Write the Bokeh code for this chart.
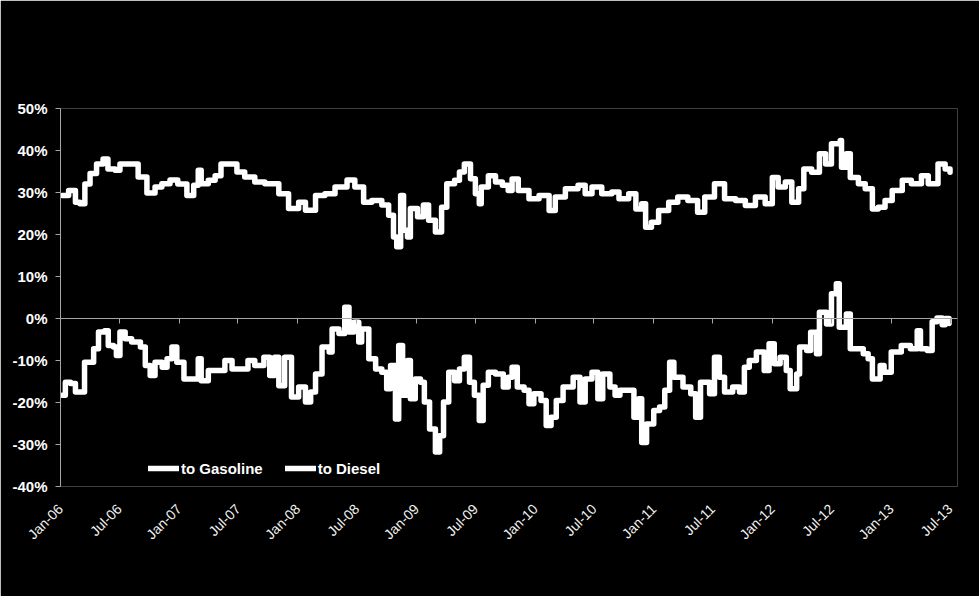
import pandas as pd
from bokeh.plotting import figure
from bokeh.models import (ColumnDataSource, DatetimeAxis, FixedTicker, NumeralTickFormatter,
                          DatetimeTickFormatter, Range1d, Legend, LegendItem)
from bokeh.embed import file_html
from bokeh.resources import INLINE

# ---------------- data ----------------
gas_dates = ["2006-01-06","2006-01-26","2006-02-16","2006-03-02","2006-03-17","2006-04-02","2006-04-22",
 "2006-05-12","2006-05-27","2006-06-18","2006-07-03","2006-08-14","2006-08-28","2006-09-24","2006-10-19",
 "2006-11-09","2006-12-04","2006-12-28","2007-01-25","2007-02-15","2007-03-01","2007-03-10","2007-04-01",
 "2007-04-22","2007-05-10","2007-06-01","2007-06-28","2007-07-22","2007-08-22","2007-09-22","2007-10-22",
 "2007-11-04","2007-12-04","2008-01-04","2008-01-25","2008-02-25","2008-03-25","2008-04-25","2008-06-01",
 "2008-06-25","2008-07-22","2008-08-16","2008-09-16","2008-10-07","2008-10-22","2008-11-01","2008-11-13",
 "2008-11-22","2008-12-04","2008-12-13","2009-01-04","2009-01-22","2009-02-07","2009-02-28","2009-03-19",
 "2009-04-04","2009-04-28","2009-05-13","2009-05-28","2009-06-16","2009-07-01","2009-07-13","2009-07-19",
 "2009-08-10","2009-09-01","2009-09-22","2009-10-10","2009-10-22","2009-11-10","2009-12-13","2010-01-13",
 "2010-02-13","2010-03-04","2010-04-04","2010-05-13","2010-06-04","2010-06-25","2010-07-25","2010-08-25",
 "2010-09-16","2010-10-16","2010-11-07","2010-11-25","2010-12-07","2010-12-25","2011-01-16","2011-02-16",
 "2011-03-16","2011-04-16","2011-05-16","2011-06-07","2011-07-07","2011-08-07","2011-09-10","2011-10-10",
 "2011-11-10","2011-12-10","2012-01-01","2012-01-19","2012-02-10","2012-03-01","2012-03-22","2012-04-07",
 "2012-05-01","2012-05-25","2012-06-13","2012-07-01","2012-07-28","2012-08-01","2012-08-16","2012-08-28",
 "2012-09-22","2012-10-13","2012-11-04","2012-11-22","2012-12-13","2013-01-04","2013-02-04","2013-03-04",
 "2013-04-04","2013-04-25","2013-05-25","2013-06-16","2013-07-01"]
gas_values = [29.3,30.5,27.7,27.3,32.0,34.5,36.8,
 38.0,35.6,35.3,36.8,36.8,33.7,29.9,31.3,
 32.1,33.0,32.0,29.3,31.7,35.3,32.1,32.9,
 34.0,36.8,36.8,34.9,33.7,32.5,32.1,32.1,
 29.7,26.2,27.7,25.8,29.3,29.7,31.3,33.0,
 31.3,27.7,28.1,27.0,24.6,19.4,17.1,29.3,
 21.0,19.4,26.2,24.2,27.0,23.4,20.6,26.5,
 32.1,32.9,34.9,36.8,33.3,29.7,27.3,31.3,
 34.0,32.5,31.7,30.5,33.2,30.5,28.5,29.3,
 25.7,28.9,30.9,31.7,29.7,31.3,29.7,30.1,
 28.5,29.7,26.1,27.3,21.7,22.9,25.7,27.7,
 28.9,28.1,25.3,28.9,32.1,28.5,28.1,26.9,
 28.9,27.3,33.6,31.3,32.5,27.7,30.9,35.6,
 34.8,39.2,36.8,41.6,42.4,36.0,39.2,33.6,
 32.1,30.9,26.1,26.5,28.1,30.5,32.9,32.1,
 34.0,32.1,36.8,35.6,34.8]

dsl_dates = ["2006-01-06","2006-01-16","2006-02-01","2006-02-16","2006-03-07","2006-03-16","2006-04-01",
 "2006-04-13","2006-04-28","2006-05-17","2006-05-28","2006-06-13","2006-06-22","2006-07-03","2006-07-19",
 "2006-08-08","2006-09-04","2006-09-19","2006-10-04","2006-10-19","2006-11-10","2006-11-25","2006-12-10",
 "2006-12-25","2007-01-16","2007-02-10","2007-03-01","2007-03-10","2007-04-01","2007-04-22","2007-05-22",
 "2007-06-13","2007-07-13","2007-08-01","2007-08-22","2007-09-19","2007-10-07","2007-10-22","2007-11-04",
 "2007-11-22","2007-12-13","2008-01-04","2008-01-25","2008-02-10","2008-02-25","2008-03-16","2008-04-07",
 "2008-04-16","2008-05-07","2008-05-25","2008-06-07","2008-06-22","2008-07-07","2008-07-16","2008-08-07",
 "2008-08-28","2008-09-16","2008-10-01","2008-10-13","2008-10-28","2008-11-07","2008-11-19","2008-12-04",
 "2008-12-13","2008-12-28","2009-01-13","2009-01-25","2009-02-10","2009-02-28","2009-03-13","2009-03-25",
 "2009-04-10","2009-04-28","2009-05-13","2009-05-28","2009-06-13","2009-06-28","2009-07-13","2009-07-25",
 "2009-08-10","2009-09-01","2009-09-25","2009-10-10","2009-10-22","2009-11-07","2009-11-28","2009-12-13",
 "2009-12-28","2010-01-19","2010-02-04","2010-02-19","2010-03-07","2010-03-28","2010-04-28","2010-05-19",
 "2010-06-04","2010-06-25","2010-07-13","2010-07-28","2010-08-19","2010-09-04","2010-09-19","2010-10-19",
 "2010-11-01","2010-11-16","2010-11-25","2010-12-10","2011-01-01","2011-01-19","2011-02-04","2011-02-19",
 "2011-03-04","2011-04-01","2011-04-25","2011-05-10","2011-05-25","2011-06-22","2011-07-07","2011-07-22",
 "2011-08-07","2011-09-01","2011-09-22","2011-10-07","2011-10-22","2011-11-13","2011-12-07","2011-12-22",
 "2012-01-07","2012-01-25","2012-02-13","2012-02-25","2012-03-16","2012-03-25","2012-04-16","2012-04-28",
 "2012-05-16","2012-05-25","2012-06-16","2012-07-01","2012-07-16","2012-07-25","2012-08-16","2012-08-28",
 "2012-09-22","2012-10-07","2012-10-22","2012-11-04","2012-11-28","2012-12-10","2013-01-01","2013-02-01",
 "2013-03-01","2013-03-22","2013-04-01","2013-04-22","2013-05-07","2013-05-22","2013-06-07","2013-06-16",
 "2013-06-28"]
dsl_values = [-18.3,-15.2,-15.5,-17.5,-17.5,-10.4,-10.4,
 -7.2,-3.2,-2.9,-6.4,-6.8,-8.8,-3.2,-4.8,
 -5.6,-6.8,-11.2,-13.6,-10.4,-11.6,-9.6,-6.8,
 -10.4,-14.4,-14.4,-9.6,-14.8,-12.4,-12.4,-10.0,
 -12.0,-12.0,-10.0,-11.2,-9.2,-13.6,-9.2,-16.0,
 -9.2,-18.7,-16.3,-19.9,-17.5,-13.2,-6.8,-8.0,
 -2.5,-3.6,2.7,-3.2,-0.9,-5.6,-2.5,-9.6,
 -12.0,-12.8,-16.7,-11.2,-23.9,-6.4,-18.3,-10.0,
 -19.1,-14.4,-15.2,-19.9,-26.3,-31.8,-27.9,-19.9,
 -12.8,-14.8,-12.0,-9.2,-15.2,-18.3,-24.3,-15.9,
 -12.8,-13.2,-16.3,-14.0,-11.6,-16.3,-17.1,-20.3,
 -17.9,-19.5,-25.5,-23.5,-19.5,-16.3,-14.0,-19.9,
 -14.4,-12.8,-19.1,-13.2,-16.3,-18.3,-17.1,-17.1,
 -23.5,-19.1,-29.5,-25.1,-21.9,-21.1,-17.1,-10.4,
 -14.0,-16.3,-17.9,-23.5,-15.2,-17.9,-9.2,-14.0,
 -17.5,-16.3,-17.5,-11.6,-10.0,-8.0,-12.4,-6.0,
 -10.8,-9.2,-12.4,-16.7,-13.2,-6.8,-7.6,-3.3,
 -8.4,1.5,-1.3,5.9,8.3,-2.1,1.1,-7.2,
 -7.2,-8.4,-9.6,-14.4,-11.2,-12.8,-8.0,-6.4,
 -7.2,-2.9,-7.2,-7.6,-0.8,0.1,-1.5,0.0,
 -1.2]

series_names = ["to Gasoline", "to Diesel"]
tick_dates = ["2006-01-01","2006-07-01","2007-01-01","2007-07-01","2008-01-01","2008-07-01",
              "2009-01-01","2009-07-01","2010-01-01","2010-07-01","2011-01-01","2011-07-01",
              "2012-01-01","2012-07-01","2013-01-01","2013-07-01"]
y_ticks = [-0.4, -0.3, -0.2, -0.1, 0.0, 0.1, 0.2, 0.3, 0.4, 0.5]

# ---------------- figure ----------------
FONT = "Liberation Sans"
tick_ms = [pd.Timestamp(d).value / 1e6 for d in tick_dates]

p = figure(width=979, height=596, output_backend="svg", toolbar_location=None,
           x_axis_type="datetime",
           x_range=Range1d(pd.Timestamp("2006-01-01"), pd.Timestamp("2013-07-24")),
           y_range=Range1d(-0.4, 0.5),
           min_border_left=60, min_border_right=22, min_border_top=108, min_border_bottom=110,
           background_fill_color="black", border_fill_color="black", outline_line_color=None)
p.grid.visible = False

gas_src = ColumnDataSource(dict(x=pd.to_datetime(gas_dates), y=[v / 100 for v in gas_values]))
dsl_src = ColumnDataSource(dict(x=pd.to_datetime(dsl_dates), y=[v / 100 for v in dsl_values]))

r1 = p.step("x", "y", source=gas_src, mode="after", line_color="white", line_width=5.5,
            line_join="round", line_cap="round")
r2 = p.step("x", "y", source=dsl_src, mode="after", line_color="white", line_width=5.5,
            line_join="round", line_cap="round")

# y axis
yax = p.yaxis[0]
yax.ticker = FixedTicker(ticks=y_ticks)
yax.formatter = NumeralTickFormatter(format="0%")
yax.axis_line_color = "#a6a6a6"
yax.major_tick_line_color = "#a6a6a6"
yax.major_tick_out = 5
yax.major_tick_in = 0
yax.minor_tick_line_color = None
yax.major_label_text_color = "white"
yax.major_label_text_font = FONT
yax.major_label_text_font_style = "bold"
yax.major_label_text_font_size = "15px"
yax.major_label_standoff = 8

# x axis (labels only, at bottom)
xax = p.xaxis[0]
xax.ticker = FixedTicker(ticks=tick_ms)
fmt = "%b-%y"
xax.formatter = DatetimeTickFormatter(days=fmt, months=fmt, years=fmt, hours=fmt)
xax.axis_line_color = None
xax.major_tick_line_color = None
xax.minor_tick_line_color = None
xax.major_label_orientation = 0.785398
xax.major_label_text_color = "#f2f2f2"
xax.major_label_text_font = FONT
xax.major_label_text_font_size = "14px"
xax.major_label_standoff = 14

# zero line axis with ticks
zax = DatetimeAxis(fixed_location=0, ticker=FixedTicker(ticks=tick_ms))
zax.axis_line_color = "#a6a6a6"
zax.major_tick_line_color = "#a6a6a6"
zax.major_tick_in = 5
zax.major_tick_out = 0
zax.minor_tick_line_color = None
zax.major_label_text_font_size = "0px"
zax.major_label_text_color = None
p.add_layout(zax, "above")

legend = Legend(items=[LegendItem(label=series_names[0], renderers=[r1]),
                       LegendItem(label=series_names[1], renderers=[r2])],
                orientation="horizontal", location=(88, 8),
                background_fill_alpha=0, border_line_color=None,
                padding=0, margin=0, spacing=22, glyph_width=31, label_standoff=2,
                label_text_color="white", label_text_font=FONT, label_text_font_style="bold",
                label_text_font_size="15px")
p.add_layout(legend, "center")

open("out.html", "w").write(file_html(p, INLINE))
